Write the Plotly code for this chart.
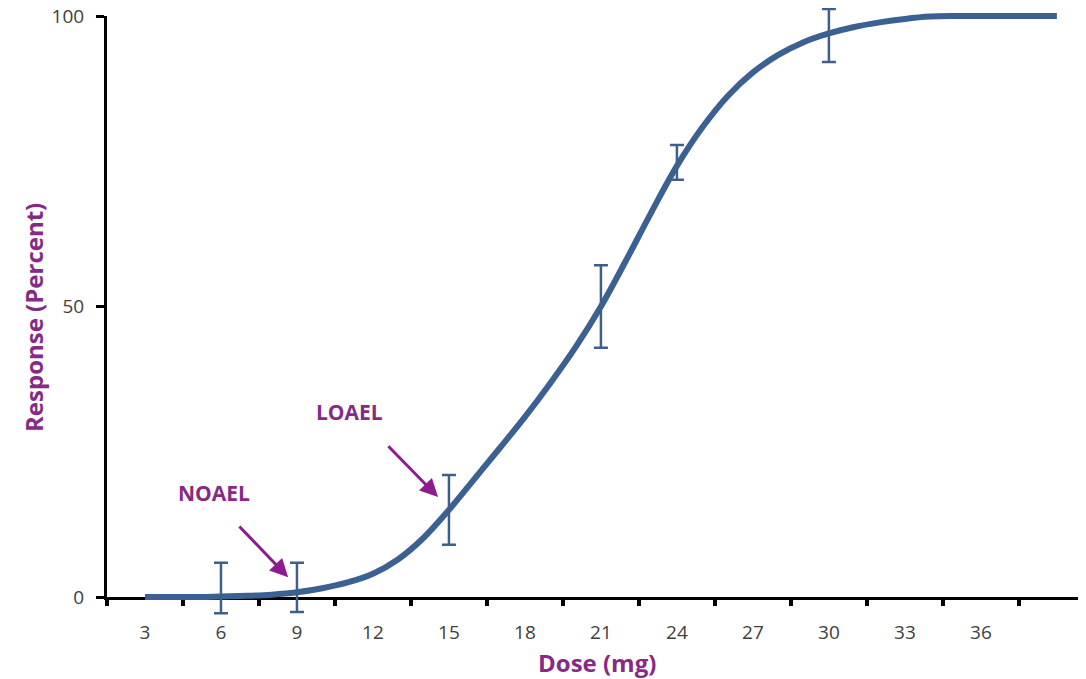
import plotly.graph_objects as go

# Fitted dose-response curve
curve_dose = list(range(3, 40))
curve_resp = [0, 0, 0, 0.1, 0.2, 0.4, 0.8, 1.5, 2.5, 4, 6.5, 10.2, 15, 20.3, 25.6, 31,
              36.8, 43, 50, 58, 66.3, 74.2, 80.8, 86.2, 90.3, 93.3, 95.5, 97, 98.1, 98.9,
              99.5, 99.9, 100, 100, 100, 100, 100]

# Observed points with error bars
obs_dose = [6, 9, 15, 21, 24, 30]
obs_resp = [0, 0.7, 15, 50, 74.8, 96.7]
err_plus = [5.9, 5.2, 6.0, 7.1, 3.0, 4.5]
err_minus = [2.8, 3.3, 6.0, 7.1, 3.0, 4.6]

x_labels = [3, 6, 9, 12, 15, 18, 21, 24, 27, 30, 33, 36]
y_ticks = [0, 50, 100]

purple = "#862a86"
arrow_purple = "#8e1c8e"
blue = "#3a6191"
font = "'Open Sans', sans-serif"

# The page body has an 8px margin; work in page pixels and subtract it.
OFF = 8
W, H = 1086 - OFF, 679 - OFF
H_TOP, H_BOT = 8, 619            # page px of the (extended) plot area
PX0, PX100 = 597, 16             # page px of y=0 and y=100
LEFT = 107                       # page px of the y axis
X_RANGE = [1.5, 40.15]
ppu = (PX0 - PX100) / 100.0
y2_lo = -(H_BOT - PX0) / ppu
y2_hi = 100 + (PX100 - H_TOP) / ppu
dom_lo = (H_BOT - PX0) / (H_BOT - H_TOP)
dom_hi = (H_BOT - PX100) / (H_BOT - H_TOP)
plot_w = 1086 - LEFT


def px_x(p):
    return (p - LEFT) / plot_w


def px_y(p):
    return (H_BOT - p) / (H_BOT - H_TOP)


fig = go.Figure()
# empty trace so that the x/y subplot (which carries the visible axes) exists
fig.add_trace(go.Scatter(x=[], y=[], xaxis="x", yaxis="y", showlegend=False, hoverinfo="skip"))
fig.add_trace(go.Scatter(
    x=curve_dose, y=curve_resp, mode="lines", xaxis="x2", yaxis="y2",
    line=dict(color=blue, width=6, shape="spline", smoothing=1.0),
    cliponaxis=False, showlegend=False, hoverinfo="skip"))
fig.add_trace(go.Scatter(
    x=obs_dose, y=obs_resp, mode="markers", xaxis="x2", yaxis="y2",
    marker=dict(size=1, color="rgba(0,0,0,0)"),
    error_y=dict(type="data", symmetric=False, array=err_plus, arrayminus=err_minus,
                 color="#3d5f8a", thickness=2.5, width=7),
    cliponaxis=False, showlegend=False, hoverinfo="skip"))

fig.update_layout(
    width=W, height=H,
    margin=dict(l=LEFT - OFF, r=0, t=H_TOP - OFF, b=679 - H_BOT),
    plot_bgcolor="rgba(0,0,0,0)", paper_bgcolor="white",
    font=dict(family=font, color="#404040", size=19),
    xaxis=dict(
        range=X_RANGE, tickvals=x_labels, ticktext=[str(v) for v in x_labels],
        domain=[0, 1], anchor="y", automargin=False,
        ticks="outside", ticklen=16, tickcolor="rgba(0,0,0,0)",
        showgrid=False, zeroline=False,
        showline=True, linecolor="black", linewidth=3,
        tickfont=dict(size=19, color="#404040"),
        ticklabeloverflow="allow",
        minor=dict(tick0=1.5, dtick=3, ticks="outside", ticklen=6, tickwidth=4,
                   tickcolor="black", showgrid=False),
    ),
    yaxis=dict(
        range=[0, 100], tickvals=y_ticks, domain=[dom_lo, dom_hi], anchor="x",
        automargin=False,
        ticks="outside", ticklen=8, tickwidth=3, tickcolor="black",
        showgrid=False, zeroline=False,
        showline=True, linecolor="black", linewidth=3,
        tickfont=dict(size=19, color="#404040"),
        ticklabelstandoff=8, ticklabeloverflow="allow",
    ),
    xaxis2=dict(
        range=X_RANGE, domain=[0, 1], anchor="y2", visible=False,
        showgrid=False, zeroline=False, automargin=False,
    ),
    yaxis2=dict(
        range=[y2_lo, y2_hi], domain=[0, 1], anchor="x2", visible=False,
        showgrid=False, zeroline=False, automargin=False,
    ),
)

annotations = [
    dict(text="<b>Dose (mg)</b>", xref="paper", yref="paper", x=px_x(597), y=px_y(662),
         xanchor="center", yanchor="middle",
         showarrow=False, font=dict(size=24, color=purple, family=font)),
    dict(text="<b>Response (Percent)</b>", xref="paper", yref="paper", x=px_x(33), y=px_y(318),
         xanchor="center", yanchor="middle",
         showarrow=False, textangle=-90, font=dict(size=24, color=purple, family=font)),
    dict(text="<b>NOAEL</b>", x=5.72, y=17.9, xref="x", yref="y", showarrow=False,
         xanchor="center", yanchor="middle",
         font=dict(size=21, color=purple, family=font)),
    dict(text="<b>LOAEL</b>", x=11.09, y=31.8, xref="x", yref="y", showarrow=False,
         xanchor="center", yanchor="middle",
         font=dict(size=21, color=purple, family=font)),
    dict(text="", x=8.65, y=3.4, ax=6.67, ay=12.4, xref="x", yref="y", axref="x", ayref="y",
         showarrow=True, arrowhead=2, arrowsize=1.2, arrowwidth=3, arrowcolor=arrow_purple),
    dict(text="", x=14.57, y=17.2, ax=12.55, ay=26.2, xref="x", yref="y", axref="x", ayref="y",
         showarrow=True, arrowhead=2, arrowsize=1.2, arrowwidth=3, arrowcolor=arrow_purple),
]
fig.update_layout(annotations=annotations)

fig.write_html("out.html")
